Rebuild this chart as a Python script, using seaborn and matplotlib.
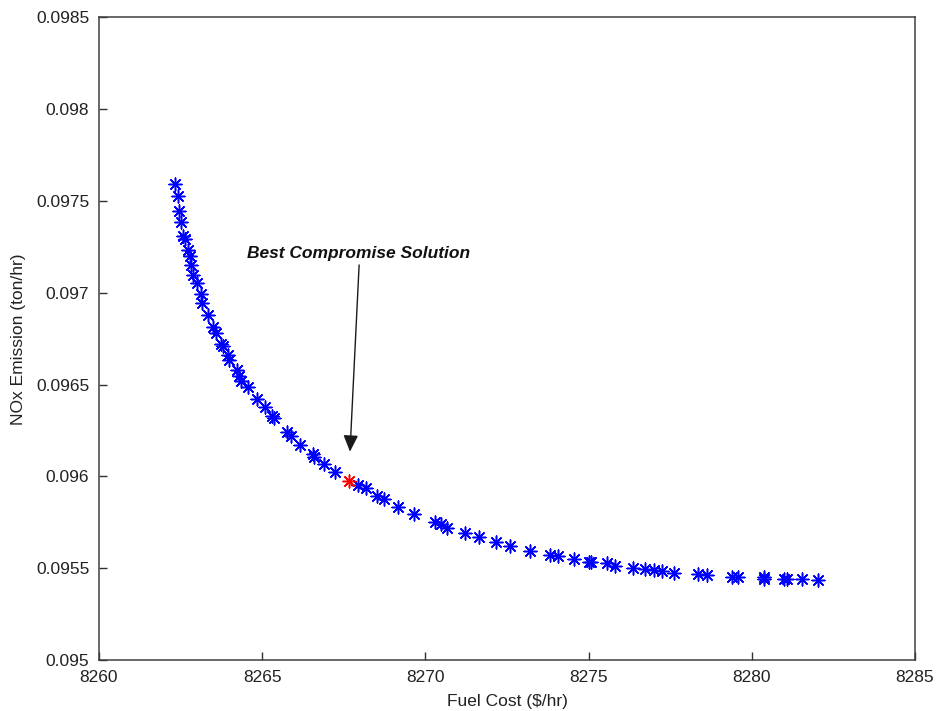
import matplotlib
matplotlib.use("Agg")
import matplotlib.pyplot as plt
import seaborn as sns
import pandas as pd

# Pareto front: fuel cost ($/hr) vs NOx emission (ton/hr)
fuel_cost = [
    8262.33, 8262.42, 8262.45, 8262.51, 8262.57, 8262.63, 8262.73, 8262.79,
    8262.81, 8262.89, 8262.99, 8263.12, 8263.16, 8263.33, 8263.48, 8263.58,
    8263.74, 8263.79, 8263.94, 8263.99, 8264.22, 8264.30, 8264.35, 8264.57,
    8264.85, 8265.09, 8265.29, 8265.37, 8265.75, 8265.87, 8266.16, 8266.55,
    8266.59, 8266.89, 8267.23, 8267.94, 8268.17, 8268.51, 8268.74, 8269.15,
    8269.66, 8270.29, 8270.48, 8270.65, 8271.21, 8271.64, 8272.16, 8272.59,
    8273.20, 8273.82, 8274.07, 8274.55, 8275.02, 8275.07, 8275.55, 8275.81,
    8276.35, 8276.73, 8277.00, 8277.25, 8277.62, 8278.36, 8278.64, 8279.38,
    8279.59, 8280.37, 8280.37, 8281.00, 8281.08, 8281.53, 8282.02,
]
nox_emission = [
    0.097593, 0.097528, 0.097448, 0.097388, 0.097312, 0.097294, 0.097234, 0.097201,
    0.097152, 0.097097, 0.097054, 0.096994, 0.096947, 0.096880, 0.096816, 0.096782,
    0.096722, 0.096711, 0.096662, 0.096635, 0.096580, 0.096547, 0.096522, 0.096486,
    0.096422, 0.096380, 0.096330, 0.096317, 0.096244, 0.096221, 0.096172, 0.096123,
    0.096105, 0.096068, 0.096026, 0.095954, 0.095936, 0.095894, 0.095876, 0.095836,
    0.095795, 0.095751, 0.095739, 0.095721, 0.095691, 0.095669, 0.095642, 0.095621,
    0.095596, 0.095572, 0.095567, 0.095551, 0.095536, 0.095532, 0.095530, 0.095512,
    0.095500, 0.095495, 0.095491, 0.095487, 0.095476, 0.095467, 0.095464, 0.095454,
    0.095451, 0.095443, 0.095453, 0.095443, 0.095444, 0.095440, 0.095436,
]

# Best compromise solution
best_cost = [8267.67]
best_nox = [0.095977]

x_ticks = [8260, 8265, 8270, 8275, 8280, 8285]
y_ticks = [0.095, 0.0955, 0.096, 0.0965, 0.097, 0.0975, 0.098, 0.0985]
y_tick_labels = ["0.095", "0.0955", "0.096", "0.0965", "0.097", "0.0975", "0.098", "0.0985"]

front = pd.DataFrame({"cost": fuel_cost, "nox": nox_emission})
best = pd.DataFrame({"cost": best_cost, "nox": best_nox})

sns.set_style("white")
plt.rcParams["font.family"] = ["Liberation Sans", "DejaVu Sans"]

fig = plt.figure(figsize=(9.4, 7.11), dpi=100)
ax = fig.add_axes([0.1053, 0.0717, 0.8681, 0.9037])

asterisk = (8, 2, 0)
sns.scatterplot(data=front, x="cost", y="nox", marker=asterisk, s=85,
                color="blue", linewidth=1.1, ax=ax, zorder=3)
sns.scatterplot(data=best, x="cost", y="nox", marker=asterisk, s=85,
                color="red", linewidth=1.1, ax=ax, zorder=4)

ax.set_xlim(8260, 8285)
ax.set_ylim(0.095, 0.0985)
ax.set_xticks(x_ticks)
ax.set_yticks(y_ticks)
ax.set_yticklabels(y_tick_labels)
ax.tick_params(bottom=True, left=True, top=False, right=False,
               direction="in", length=6, width=1, colors="#303030",
               labelsize=12.5, labelcolor="#222222", pad=7)

for side in ["top", "right", "bottom", "left"]:
    ax.spines[side].set_visible(True)
    ax.spines[side].set_color("#404040")
    ax.spines[side].set_linewidth(1.1)

ax.set_xlabel("Fuel Cost ($/hr)", fontsize=12.5, color="#222222", labelpad=7)
ax.set_ylabel("NOx Emission (ton/hr)", fontsize=12.5, color="#222222", labelpad=7)

ax.annotate("", xy=(8267.69, 0.096135), xytext=(8267.97, 0.097152),
            arrowprops=dict(arrowstyle="-|>,head_length=1.0,head_width=0.45",
                            color="#1a1a1a", lw=1.0, shrinkA=0, shrinkB=0))
ax.text(8264.53, 0.097212, "Best Compromise Solution", fontsize=12.5,
        fontstyle="italic", fontweight="bold", color="#111111",
        ha="left", va="center")

fig.savefig("out.png", dpi=100)
